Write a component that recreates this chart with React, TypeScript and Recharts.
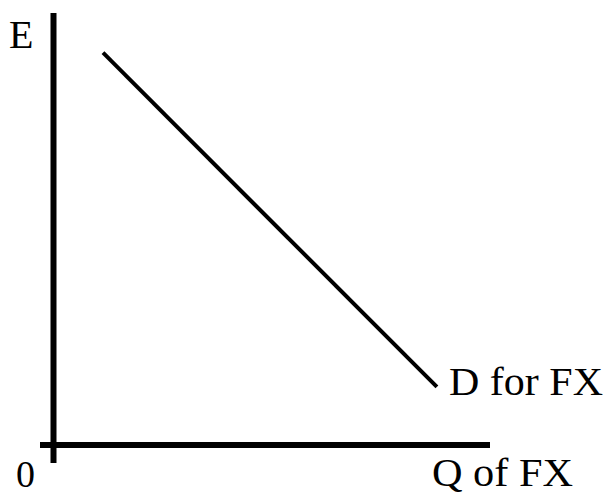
import React from 'react';
import { ComposedChart, Line, XAxis, YAxis, ReferenceLine, Customized } from 'recharts';

const demandQ = [11, 85.2];
const demandE = [87.2, 12.9];
const demandData = demandQ.map((q, i) => ({ q, e: demandE[i] }));

const yAxisLabel = 'E';
const xAxisLabel = 'Q of FX';
const originLabel = '0';
const curveLabel = 'D for FX';

const textStyle: React.CSSProperties = {
  fontFamily: "'Liberation Serif', 'Times New Roman', Times, serif",
  fontSize: 40,
  fill: '#000',
};

const Labels = () => (
  <g>
    <text x={9} y={48} style={textStyle}>{yAxisLabel}</text>
    <text x={16} y={487} style={{ ...textStyle, fontSize: 38 }}>{originLabel}</text>
    <text x={449} y={395} style={textStyle} textLength={154} lengthAdjust="spacingAndGlyphs">{curveLabel}</text>
    <text x={432} y={486} style={textStyle} textLength={141} lengthAdjust="spacingAndGlyphs">{xAxisLabel}</text>
  </g>
);

export default function App() {
  return (
    <div style={{ position: 'absolute', left: 0, top: 0, width: 611, height: 496, background: '#fff' }}>
      <ComposedChart
        width={611}
        height={496}
        data={demandData}
        margin={{ top: 13, right: 121, bottom: 33, left: 40 }}
      >
        <XAxis dataKey="q" type="number" domain={[-3, 97]} hide allowDataOverflow />
        <YAxis dataKey="e" type="number" domain={[-4, 96]} hide allowDataOverflow />
        <ReferenceLine
          segment={[{ x: 0, y: -4 }, { x: 0, y: 96 }]}
          stroke="#000"
          strokeWidth={6}
          ifOverflow="visible"
        />
        <ReferenceLine
          segment={[{ x: -3, y: 0 }, { x: 97, y: 0 }]}
          stroke="#000"
          strokeWidth={6}
          ifOverflow="visible"
        />
        <Line
          dataKey="e"
          stroke="#000"
          strokeWidth={4}
          dot={false}
          activeDot={false}
          isAnimationActive={false}
          type="linear"
        />
        <Customized component={Labels} />
      </ComposedChart>
    </div>
  );
}
